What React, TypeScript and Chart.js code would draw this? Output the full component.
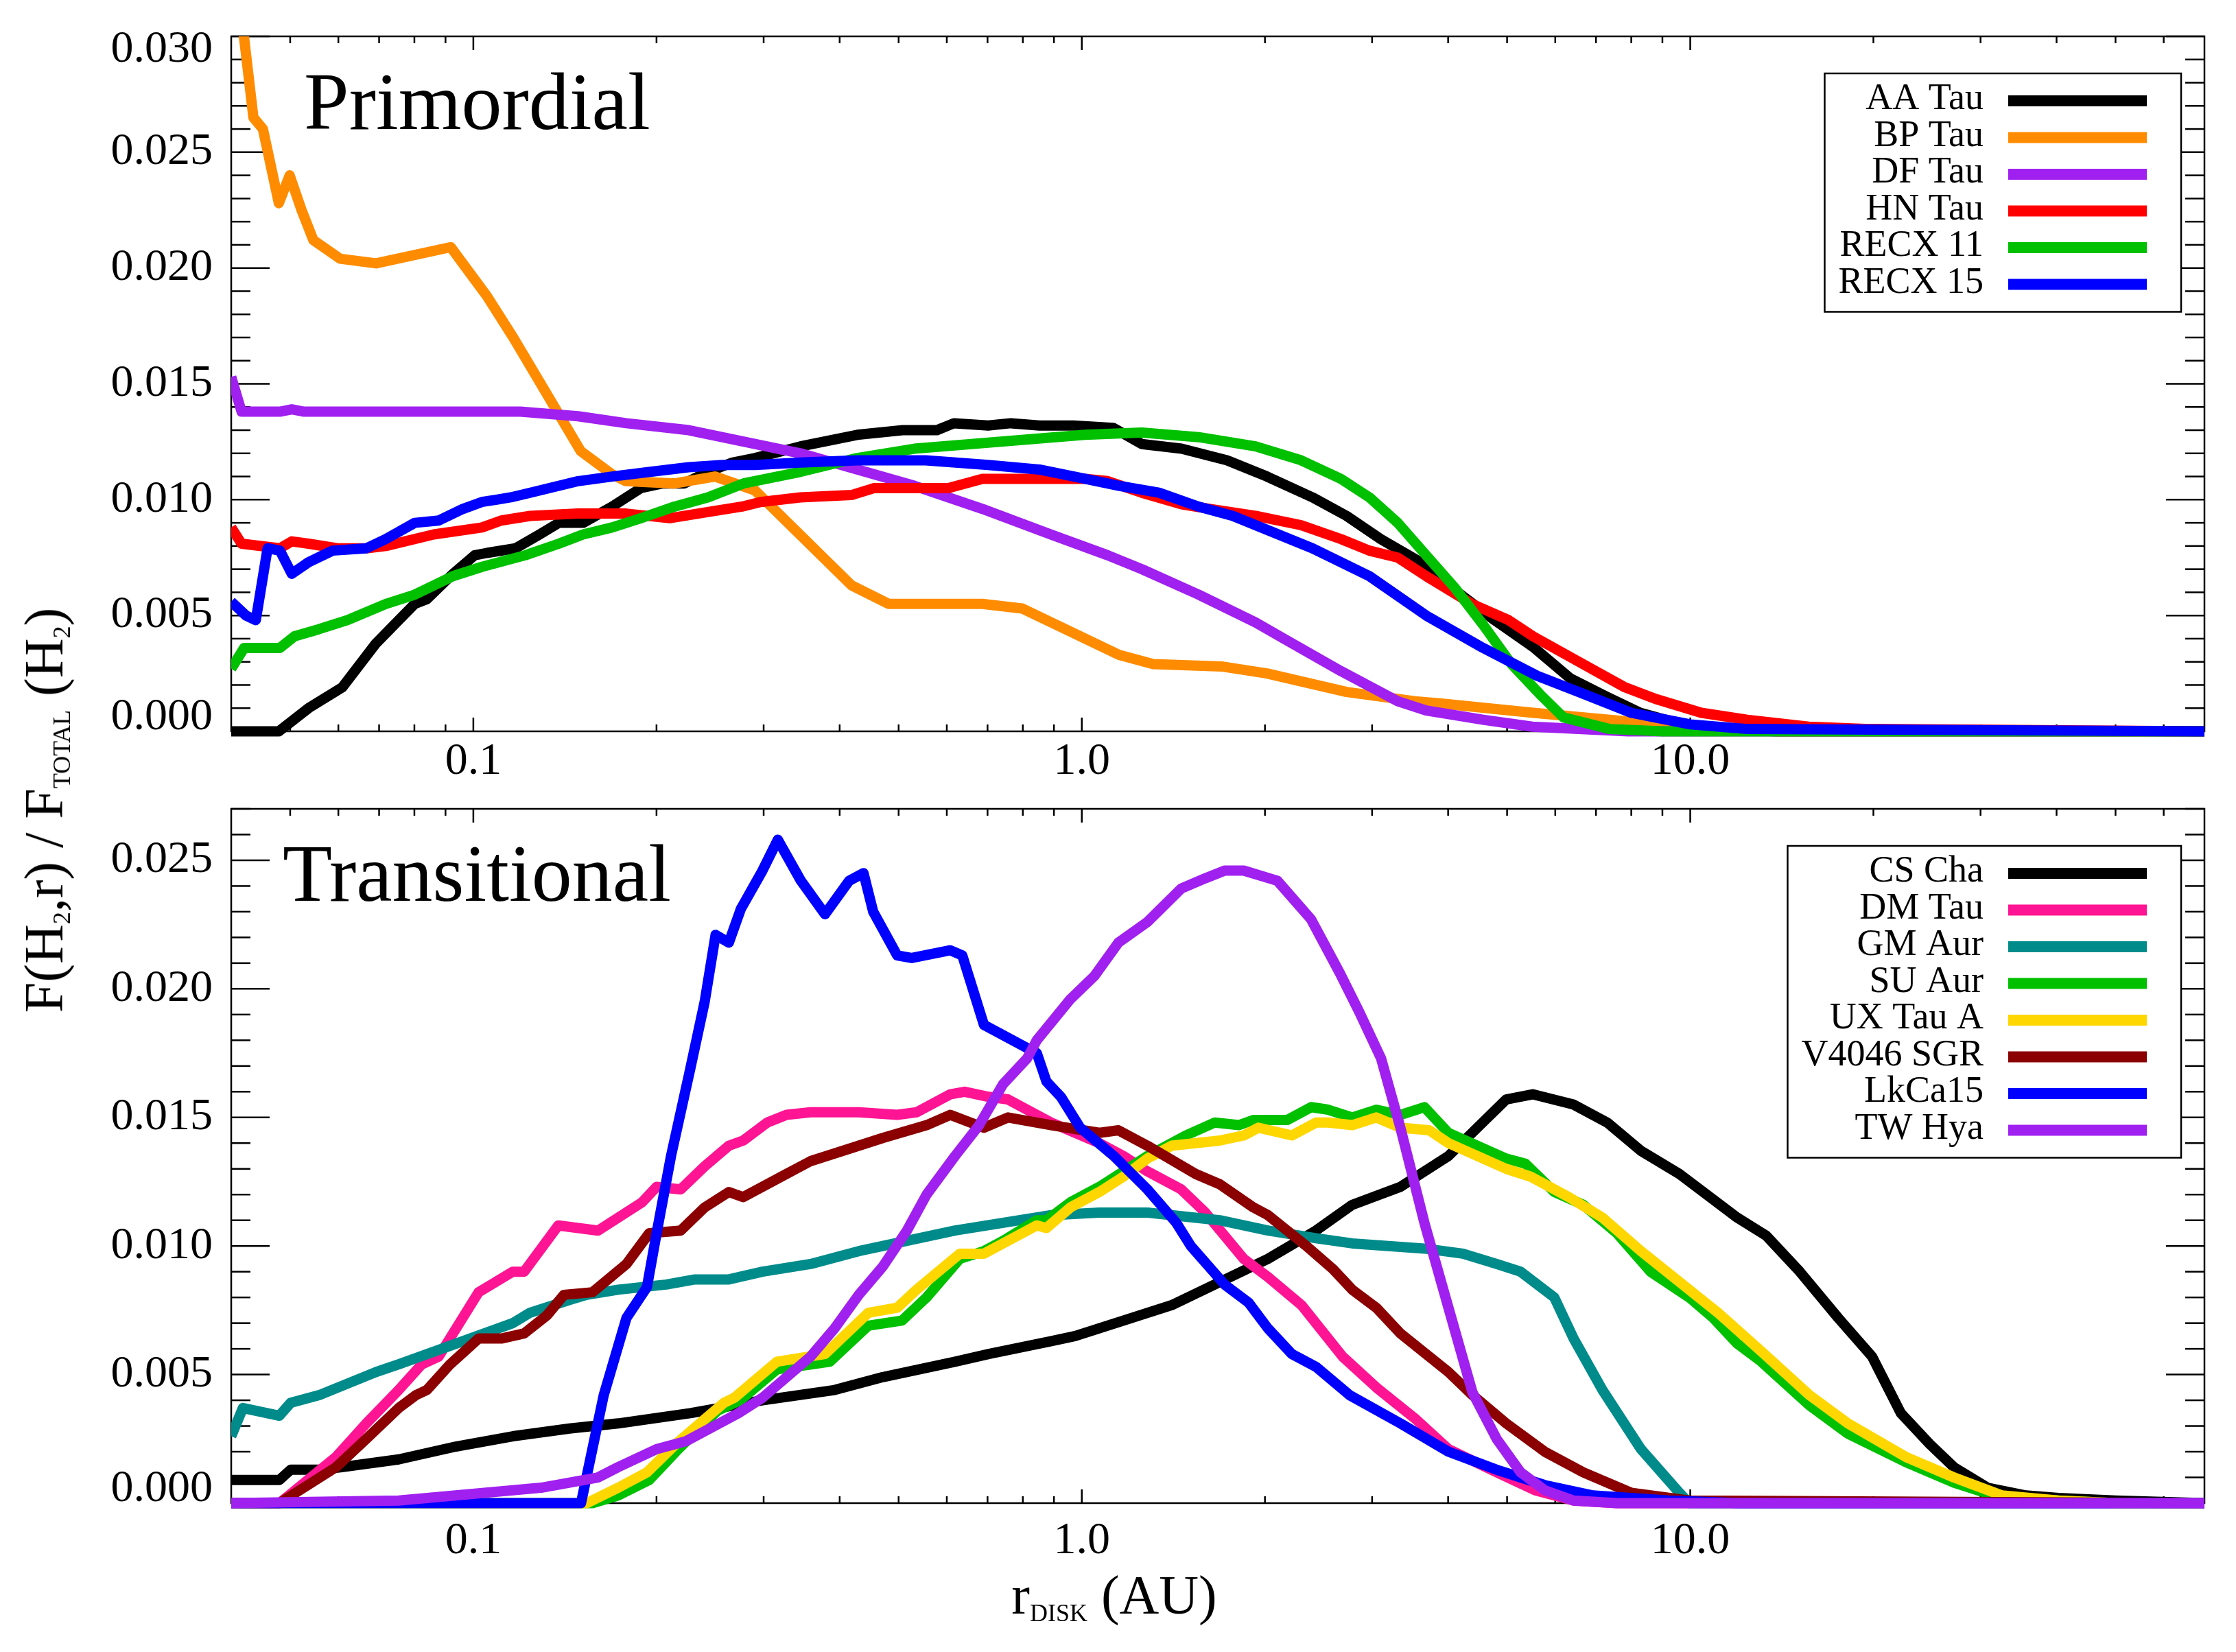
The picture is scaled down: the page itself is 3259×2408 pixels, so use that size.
import { useEffect, useRef } from "react"
import Chart from "chart.js/auto"

const FONT = '"Liberation Serif", "Times New Roman", serif'

// axes
const X_MIN = 0.04
const X_MAX = 70
const xTickValues = [0.1, 1, 10]
const xTickLabels = ["0.1", "1.0", "10.0"]
const topYTicks = [0, 0.005, 0.01, 0.015, 0.02, 0.025, 0.03]
const bottomYTicks = [0, 0.005, 0.01, 0.015, 0.02, 0.025]

// ---- Primordial panel ----
const primordialNames = ["AA Tau", "BP Tau", "DF Tau", "HN Tau", "RECX 11", "RECX 15"]
const primordialColors = ["#000000", "#FF8C00", "#A020F0", "#FF0000", "#00C000", "#0000FF"]

const aaTauR = [0.040, 0.0479, 0.0536, 0.0609, 0.0692, 0.0801, 0.0838, 0.0926, 0.1005, 0.1052, 0.1173, 0.1285, 0.1382, 0.1515, 0.169, 0.1885, 0.2046, 0.222, 0.243, 0.2664, 0.2906, 0.3448, 0.4277, 0.508, 0.578, 0.6166, 0.7016, 0.7647, 0.8518, 0.969, 1.127, 1.255, 1.459, 1.733, 2.015, 2.394, 2.724, 3.099, 3.604, 4.101, 4.768, 5.543, 6.34, 7.285, 8.277, 9.4, 11.05, 13.9, 70]
const aaTauF = [0, 0, 0.0010, 0.0019, 0.0038, 0.0055, 0.0057, 0.0068, 0.0076, 0.0077, 0.0079, 0.0085, 0.0090, 0.0090, 0.0097, 0.0105, 0.0107, 0.0107, 0.0112, 0.0116, 0.0118, 0.0123, 0.0128, 0.0130, 0.0130, 0.0133, 0.0132, 0.0133, 0.0132, 0.0132, 0.0131, 0.0124, 0.0122, 0.0117, 0.0110, 0.0101, 0.0093, 0.0083, 0.0073, 0.0061, 0.0048, 0.0036, 0.0023, 0.0015, 0.0008, 0.0004, 0.0001, 0, 0]

const bpTauR = [0.040, 0.0435, 0.0451, 0.0479, 0.0499, 0.0522, 0.0546, 0.0604, 0.0692, 0.0918, 0.1052, 0.1163, 0.1501, 0.169, 0.178, 0.2141, 0.2496, 0.2903, 0.4184, 0.4815, 0.6866, 0.7984, 1.151, 1.31, 1.696, 2.015, 2.724, 3.527, 3.9, 5.52, 7.37, 9.84, 14, 70]
const bpTauF = [0.0347, 0.0265, 0.0260, 0.0228, 0.0240, 0.0225, 0.0212, 0.0204, 0.0202, 0.0209, 0.0188, 0.0170, 0.0121, 0.0111, 0.0108, 0.0107, 0.0110, 0.0104, 0.0063, 0.0055, 0.0055, 0.0053, 0.0033, 0.0029, 0.0028, 0.0025, 0.0017, 0.0013, 0.0012, 0.0008, 0.0005, 0.0002, 0, 0]

const dfTauR = [0.040, 0.0416, 0.0481, 0.0503, 0.0527, 0.1195, 0.1487, 0.1784, 0.226, 0.3448, 0.5305, 0.6866, 0.889, 1.103, 1.255, 1.556, 1.93, 2.149, 2.666, 3.306, 3.681, 4.566, 5.5, 7.9, 70]
const dfTauF = [0.0153, 0.0138, 0.0138, 0.0139, 0.0138, 0.0138, 0.0136, 0.0133, 0.0130, 0.0120, 0.0106, 0.0096, 0.0085, 0.0076, 0.0070, 0.0059, 0.0047, 0.0040, 0.0026, 0.0013, 0.0009, 0.0005, 0.0002, 0, 0]

const hnTauR = [0.040, 0.0416, 0.0481, 0.0503, 0.0536, 0.0598, 0.0667, 0.0718, 0.0861, 0.1033, 0.1111, 0.124, 0.1487, 0.1784, 0.2102, 0.2477, 0.2763, 0.2966, 0.3448, 0.4184, 0.456, 0.6035, 0.6866, 0.7484, 1.012, 1.103, 1.255, 1.459, 1.625, 1.93, 2.293, 2.666, 2.969, 3.306, 3.681, 4.377, 5.03, 5.516, 6.564, 7.81, 8.768, 10.43, 12.41, 15.65, 19.7, 70]
const hnTauF = [0.0088, 0.0081, 0.0079, 0.0082, 0.0081, 0.0079, 0.0079, 0.0080, 0.0085, 0.0088, 0.0091, 0.0093, 0.0094, 0.0094, 0.0092, 0.0095, 0.0097, 0.0099, 0.0101, 0.0102, 0.0105, 0.0105, 0.0109, 0.0109, 0.0109, 0.0108, 0.0103, 0.0098, 0.0096, 0.0093, 0.0089, 0.0083, 0.0078, 0.0075, 0.0067, 0.0055, 0.0048, 0.0041, 0.0030, 0.0019, 0.0014, 0.0008, 0.0005, 0.0002, 0.0001, 0]

const recx11R = [0.040, 0.042, 0.0481, 0.0508, 0.0556, 0.0621, 0.0718, 0.0801, 0.0926, 0.1033, 0.1217, 0.1382, 0.1515, 0.169, 0.1885, 0.2141, 0.243, 0.278, 0.3448, 0.4277, 0.5305, 0.658, 0.816, 1.012, 1.255, 1.556, 1.93, 2.293, 2.666, 2.969, 3.306, 3.681, 4.101, 4.566, 5.085, 5.662, 6.19, 7.37, 9, 70]
const recx11F = [0.0027, 0.0036, 0.0036, 0.0041, 0.0044, 0.0048, 0.0055, 0.0059, 0.0067, 0.0071, 0.0076, 0.0081, 0.0085, 0.0088, 0.0092, 0.0097, 0.0101, 0.0107, 0.0112, 0.0118, 0.0122, 0.0124, 0.0126, 0.0128, 0.0129, 0.0127, 0.0123, 0.0117, 0.0109, 0.0101, 0.0090, 0.0076, 0.0062, 0.0046, 0.0029, 0.0016, 0.0006, 0.0001, 0, 0]

const recx15R = [0.040, 0.0423, 0.0439, 0.0459, 0.0481, 0.0503, 0.0536, 0.0587, 0.0667, 0.0718, 0.0801, 0.0877, 0.0961, 0.1033, 0.1092, 0.1152, 0.124, 0.1487, 0.169, 0.1954, 0.226, 0.2569, 0.2906, 0.3448, 0.4277, 0.554, 0.7016, 0.8518, 1.012, 1.151, 1.339, 1.556, 1.771, 2.015, 2.394, 2.969, 3.681, 4.566, 5.6, 6.55, 8, 10, 12.4, 70]
const recx15F = [0.0056, 0.0050, 0.0048, 0.0079, 0.0078, 0.0068, 0.0073, 0.0078, 0.0079, 0.0083, 0.0090, 0.0091, 0.0096, 0.0099, 0.0100, 0.0101, 0.0103, 0.0108, 0.0110, 0.0112, 0.0114, 0.0115, 0.0115, 0.0116, 0.0117, 0.0117, 0.0115, 0.0113, 0.0109, 0.0106, 0.0103, 0.0097, 0.0093, 0.0087, 0.0079, 0.0067, 0.0050, 0.0036, 0.0024, 0.0017, 0.0008, 0.0003, 0.0001, 0]

// ---- Transitional panel ----
const transitionalNames = ["CS Cha", "DM Tau", "GM Aur", "SU Aur", "UX Tau A", "V4046 SGR", "LkCa15", "TW Hya"]
const transitionalColors = ["#000000", "#FF1493", "#008B8B", "#00C000", "#FFD700", "#8B0000", "#0000FF", "#A020F0"]

const csChaR = [0.040, 0.048, 0.0501, 0.0558, 0.0608, 0.0754, 0.0936, 0.1161, 0.1439, 0.173, 0.2273, 0.2987, 0.3925, 0.4709, 0.619, 0.703, 0.891, 0.9757, 1.171, 1.405, 1.686, 2.022, 2.426, 2.783, 3.339, 4.005, 4.983, 5.508, 6.432, 7.305, 8.299, 9.6, 11.95, 13.33, 15.14, 17.51, 19.9, 22.19, 24.75, 27.12, 30.8, 35.6, 40.3, 50, 70]
const csChaF = [0.0009, 0.0009, 0.0013, 0.0013, 0.0014, 0.0017, 0.0022, 0.0026, 0.0029, 0.0031, 0.0035, 0.0040, 0.0044, 0.0049, 0.0055, 0.0058, 0.0063, 0.0065, 0.0071, 0.0077, 0.0086, 0.0095, 0.0106, 0.0116, 0.0123, 0.0135, 0.0157, 0.0159, 0.0155, 0.0148, 0.0137, 0.0128, 0.0111, 0.0104, 0.0090, 0.0072, 0.0057, 0.0035, 0.0023, 0.0014, 0.0006, 0.0003, 0.0002, 0.0001, 0]

const dmTauR = [0.040, 0.048, 0.0595, 0.0667, 0.0754, 0.0823, 0.0877, 0.102, 0.1161, 0.1212, 0.1379, 0.1603, 0.1894, 0.2001, 0.2192, 0.24, 0.263, 0.2777, 0.3041, 0.3271, 0.3583, 0.43, 0.4973, 0.535, 0.5754, 0.6078, 0.642, 0.703, 0.7563, 0.8282, 0.891, 0.9757, 1.069, 1.171, 1.282, 1.457, 1.596, 1.846, 2.022, 2.297, 2.683, 3.048, 3.525, 4.005, 4.806, 5.559, 6.432, 7.576, 70]
const dmTauF = [0, 0, 0.0018, 0.0031, 0.0044, 0.0054, 0.0057, 0.0082, 0.0090, 0.0090, 0.0108, 0.0106, 0.0117, 0.0123, 0.0122, 0.0131, 0.0139, 0.0141, 0.0148, 0.0151, 0.0152, 0.0152, 0.0151, 0.0152, 0.0156, 0.0159, 0.0160, 0.0158, 0.0157, 0.0152, 0.0148, 0.0144, 0.0140, 0.0135, 0.0129, 0.0122, 0.0113, 0.0095, 0.0088, 0.0077, 0.0057, 0.0045, 0.0033, 0.0021, 0.0012, 0.0005, 0.0001, 0, 0]

const gmAurR = [0.040, 0.0418, 0.048, 0.0501, 0.0558, 0.0692, 0.0754, 0.0936, 0.1161, 0.1238, 0.1439, 0.1536, 0.173, 0.2075, 0.2314, 0.263, 0.2987, 0.3583, 0.43, 0.516, 0.619, 0.7426, 0.891, 1.069, 1.282, 1.405, 1.686, 2.022, 2.426, 2.783, 3.657, 4.23, 4.806, 5.263, 5.978, 6.432, 7.174, 8.299, 9.6, 9.96, 70]
const gmAurF = [0.0026, 0.0037, 0.0034, 0.0039, 0.0042, 0.0051, 0.0054, 0.0062, 0.0070, 0.0074, 0.0079, 0.0081, 0.0083, 0.0085, 0.0087, 0.0087, 0.0090, 0.0093, 0.0098, 0.0102, 0.0106, 0.0109, 0.0112, 0.0113, 0.0113, 0.0112, 0.0110, 0.0106, 0.0103, 0.0101, 0.0099, 0.0097, 0.0093, 0.0090, 0.0080, 0.0064, 0.0044, 0.0021, 0.0004, 0, 0]

const suAurR = [0.040, 0.157, 0.173, 0.1945, 0.2152, 0.2519, 0.2746, 0.3154, 0.3854, 0.4458, 0.5065, 0.5558, 0.6302, 0.6904, 0.7426, 0.8435, 0.8747, 0.958, 1.069, 1.282, 1.483, 1.654, 1.813, 1.914, 2.175, 2.382, 2.541, 2.783, 3.048, 3.339, 3.657, 4.005, 4.468, 4.983, 5.361, 5.978, 6.671, 7.576, 8.605, 9.96, 10.91, 11.95, 13.09, 15.7, 18.16, 22.6, 27.12, 32.53, 40.3, 50, 70]
const suAurF = [0, 0, 0.0003, 0.0009, 0.0020, 0.0036, 0.0040, 0.0052, 0.0055, 0.0069, 0.0071, 0.0080, 0.0095, 0.0098, 0.0102, 0.0110, 0.0110, 0.0117, 0.0123, 0.0135, 0.0143, 0.0148, 0.0147, 0.0149, 0.0149, 0.0154, 0.0153, 0.0150, 0.0153, 0.0151, 0.0154, 0.0144, 0.0139, 0.0134, 0.0132, 0.0121, 0.0116, 0.0105, 0.0090, 0.0080, 0.0072, 0.0062, 0.0055, 0.0038, 0.0027, 0.0016, 0.0008, 0.0002, 0.0001, 0, 0]

const uxTauR = [0.040, 0.1536, 0.173, 0.1929, 0.2152, 0.2582, 0.2687, 0.3154, 0.3784, 0.4458, 0.4973, 0.535, 0.6302, 0.6904, 0.7426, 0.8435, 0.8747, 0.958, 1.069, 1.171, 1.282, 1.405, 1.686, 1.846, 1.95, 2.214, 2.426, 2.541, 2.783, 3.048, 3.339, 3.724, 4.005, 4.468, 4.983, 5.46, 6.314, 7.174, 8.299, 9.96, 11.11, 13.09, 15.7, 18.16, 22.6, 27.12, 32.53, 40.3, 50, 70]
const uxTauF = [0, 0, 0.0006, 0.0012, 0.0023, 0.0039, 0.0041, 0.0055, 0.0058, 0.0074, 0.0076, 0.0083, 0.0097, 0.0097, 0.0101, 0.0108, 0.0107, 0.0115, 0.0121, 0.0127, 0.0134, 0.0139, 0.0141, 0.0143, 0.0146, 0.0143, 0.0148, 0.0148, 0.0147, 0.0150, 0.0146, 0.0145, 0.0140, 0.0135, 0.0130, 0.0127, 0.0119, 0.0111, 0.0098, 0.0083, 0.0074, 0.0059, 0.0042, 0.0031, 0.0018, 0.0010, 0.0003, 0.0001, 0, 0]

const v4046R = [0.040, 0.048, 0.0595, 0.0667, 0.0754, 0.0805, 0.0839, 0.0916, 0.102, 0.1112, 0.1212, 0.1321, 0.1409, 0.1569, 0.1785, 0.1946, 0.2192, 0.24, 0.263, 0.2777, 0.3271, 0.3583, 0.43, 0.4709, 0.5558, 0.6078, 0.6904, 0.7563, 0.891, 1.069, 1.149, 1.282, 1.539, 1.686, 1.914, 2.022, 2.339, 2.587, 2.783, 3.048, 3.339, 4.005, 4.387, 4.983, 5.767, 6.671, 8.0, 9.96, 70]
const v4046F = [0, 0, 0.0014, 0.0025, 0.0037, 0.0042, 0.0044, 0.0054, 0.0064, 0.0064, 0.0066, 0.0073, 0.0081, 0.0082, 0.0093, 0.0105, 0.0106, 0.0115, 0.0121, 0.0119, 0.0128, 0.0133, 0.0139, 0.0142, 0.0147, 0.0151, 0.0146, 0.0150, 0.0147, 0.0144, 0.0145, 0.0139, 0.0128, 0.0124, 0.0115, 0.0112, 0.0100, 0.0091, 0.0083, 0.0076, 0.0066, 0.0051, 0.0042, 0.0031, 0.0020, 0.0012, 0.0004, 0.0001, 0]

const lkCa15R = [0.040, 0.1503, 0.1638, 0.1785, 0.1929, 0.2001, 0.2113, 0.2273, 0.24, 0.2501, 0.263, 0.2751, 0.2987, 0.3165, 0.3455, 0.3784, 0.4146, 0.4378, 0.4541, 0.4973, 0.5253, 0.6078, 0.6362, 0.6904, 0.7985, 0.8435, 0.8747, 0.924, 0.9937, 1.129, 1.282, 1.43, 1.511, 1.717, 1.88, 2.022, 2.214, 2.426, 2.755, 3.339, 4.005, 4.806, 5.767, 6.917, 9.23, 12, 70]
const lkCa15F = [0, 0, 0.0042, 0.0072, 0.0084, 0.0105, 0.0135, 0.0169, 0.0195, 0.0221, 0.0218, 0.0231, 0.0246, 0.0258, 0.0242, 0.0229, 0.0242, 0.0245, 0.0230, 0.0213, 0.0212, 0.0215, 0.0213, 0.0186, 0.0178, 0.0175, 0.0164, 0.0158, 0.0146, 0.0135, 0.0122, 0.0109, 0.0100, 0.0085, 0.0078, 0.0068, 0.0058, 0.0053, 0.0042, 0.0031, 0.0020, 0.0013, 0.0007, 0.0003, 0.0001, 0, 0]

const twHyaR = [0.040, 0.0754, 0.1161, 0.1292, 0.1603, 0.173, 0.2001, 0.2232, 0.2727, 0.2987, 0.3583, 0.3925, 0.43, 0.4709, 0.516, 0.5558, 0.619, 0.6781, 0.7426, 0.8133, 0.8435, 0.958, 1.049, 1.149, 1.282, 1.457, 1.596, 1.717, 1.846, 2.097, 2.382, 2.657, 2.858, 3.103, 3.339, 3.657, 4.005, 4.387, 4.806, 5.263, 5.767, 6.432, 7.576, 70]
const twHyaF = [0, 0.0001, 0.0005, 0.0006, 0.0010, 0.0014, 0.0021, 0.0024, 0.0035, 0.0041, 0.0057, 0.0068, 0.0081, 0.0092, 0.0106, 0.0120, 0.0135, 0.0147, 0.0163, 0.0173, 0.0180, 0.0196, 0.0205, 0.0218, 0.0226, 0.0239, 0.0243, 0.0246, 0.0246, 0.0242, 0.0227, 0.0206, 0.0191, 0.0173, 0.0146, 0.0109, 0.0076, 0.0043, 0.0025, 0.0012, 0.0005, 0.0001, 0, 0]

function toPoints(rs: number[], fs: number[]) {
  const n = Math.min(rs.length, fs.length)
  const pts = []
  for (let i = 0; i < n; i++) pts.push({ x: rs[i], y: fs[i] })
  return pts
}

// frame, inward ticks on all four sides, y labels, panel name and legend box
function decorPlugin(title: string, titleDx: number, titleDy: number, yTicks: number[]) {
  const seg = (ctx: CanvasRenderingContext2D, x1: number, y1: number, x2: number, y2: number) => {
    ctx.beginPath()
    ctx.moveTo(x1, y1)
    ctx.lineTo(x2, y2)
    ctx.stroke()
  }
  return {
    id: "decor",
    beforeDatasetsDraw(chart: any) {
      const { ctx, chartArea: a, scales } = chart
      const xs = scales.x
      const ys = scales.y
      ctx.save()
      ctx.strokeStyle = "#000"
      ctx.lineWidth = 2.5
      ctx.strokeRect(a.left, a.top, a.right - a.left, a.bottom - a.top)
      const i0 = Math.ceil(ys.min / 0.001 - 1e-6)
      for (let i = i0; i * 0.001 <= ys.max + 1e-9; i++) {
        const py = ys.getPixelForValue(i * 0.001)
        const len = i % 5 === 0 ? 56 : 28
        seg(ctx, a.left, py, a.left + len, py)
        seg(ctx, a.right - len, py, a.right, py)
      }
      for (let e = -2; e <= 2; e++) {
        for (let k = 1; k <= 9; k++) {
          const v = k * Math.pow(10, e)
          if (v <= xs.min * 1.0001 || v >= xs.max * 0.9999) continue
          const px = xs.getPixelForValue(v)
          const len = k === 1 ? 20 : 10
          seg(ctx, px, a.top, px, a.top + len)
          seg(ctx, px, a.bottom - len, px, a.bottom)
        }
      }
      // y tick labels; the ones on the frame edges are nudged inside
      ctx.fillStyle = "#000"
      ctx.font = `66px ${FONT}`
      ctx.textAlign = "right"
      ctx.textBaseline = "middle"
      yTicks.forEach((v) => {
        let py = ys.getPixelForValue(v)
        if (Math.abs(py - a.bottom) < 2) py -= 20
        if (Math.abs(py - a.top) < 2) py += 20
        ctx.fillText(v.toFixed(3), a.left - 27, py)
      })
      ctx.restore()
    },
    afterDatasetsDraw(chart: any) {
      const { ctx, chartArea: a } = chart
      ctx.save()
      ctx.fillStyle = "#000"
      ctx.textAlign = "left"
      ctx.textBaseline = "alphabetic"
      ctx.font = `118px ${FONT}`
      ctx.fillText(title, a.left + titleDx, a.top + titleDy)

      const ds = chart.data.datasets
      ctx.font = `54px ${FONT}`
      const maxW = Math.max(...ds.map((d: any) => ctx.measureText(d.label).width))
      const lineLen = 202
      const gap = 36
      const padL = 20
      const padR = 50
      const rowH = 53.5
      const boxW = padL + maxW + gap + lineLen + padR
      const boxH = 80 + (ds.length - 1) * rowH
      const boxRight = a.right - 34
      const boxTop = a.top + 54
      const boxLeft = boxRight - boxW
      ctx.fillStyle = "#fff"
      ctx.fillRect(boxLeft, boxTop, boxW, boxH)
      ctx.strokeStyle = "#000"
      ctx.lineWidth = 2.5
      ctx.strokeRect(boxLeft, boxTop, boxW, boxH)
      const lineStart = boxRight - padR - lineLen
      const textRight = lineStart - gap
      ds.forEach((d: any, i: number) => {
        const cy = boxTop + 40 + i * rowH
        ctx.fillStyle = "#000"
        ctx.textAlign = "right"
        ctx.textBaseline = "middle"
        ctx.fillText(d.label, textRight, cy - 2)
        ctx.strokeStyle = d.borderColor
        ctx.lineWidth = 16
        ctx.lineCap = "butt"
        seg(ctx, lineStart, cy, lineStart + lineLen, cy)
      })
      ctx.restore()
    },
  }
}

interface PanelSpec {
  names: string[]
  colors: string[]
  rs: number[][]
  fs: number[][]
  yMin: number
  yMax: number
  yTicks: number[]
  padTop: number
  xAxisH: number
  xLabelPad: number
  title: string
  titleDx: number
  titleDy: number
}

function buildConfig(p: PanelSpec): any {
  const datasets = p.names.map((name, i) => ({
    label: name,
    data: toPoints(p.rs[i], p.fs[i]),
    showLine: true,
    fill: false,
    borderColor: p.colors[i],
    backgroundColor: p.colors[i],
    borderWidth: 15,
    borderJoinStyle: "round",
    borderCapStyle: "butt",
    pointRadius: 0,
    pointHoverRadius: 0,
    tension: 0,
    clip: { left: 0, top: 0, right: 0, bottom: 10 },
    order: -i,
  }))
  return {
    type: "scatter",
    data: { datasets },
    options: {
      animation: false,
      responsive: false,
      devicePixelRatio: 1,
      events: [],
      layout: { padding: { left: 0, right: 46, top: p.padTop, bottom: 0 } },
      plugins: {
        legend: { display: false },
        tooltip: { enabled: false },
        title: { display: false },
      },
      scales: {
        x: {
          type: "logarithmic",
          min: X_MIN,
          max: X_MAX,
          grid: { display: false, drawTicks: false },
          border: { display: false },
          afterBuildTicks: (s: any) => {
            s.ticks = xTickValues.map((v) => ({ value: v }))
          },
          afterFit: (s: any) => {
            s.height = p.xAxisH
            s.paddingLeft = 0
            s.paddingRight = 0
          },
          ticks: {
            autoSkip: false,
            maxRotation: 0,
            minRotation: 0,
            padding: p.xLabelPad,
            color: "#000",
            font: { family: FONT, size: 66 },
            callback: (v: any) => {
              const i = xTickValues.findIndex((t) => Math.abs(t - Number(v)) < 1e-9)
              return i >= 0 ? xTickLabels[i] : ""
            },
          },
        },
        y: {
          type: "linear",
          min: p.yMin,
          max: p.yMax,
          grid: { display: false, drawTicks: false },
          border: { display: false },
          afterBuildTicks: (s: any) => {
            s.ticks = p.yTicks.map((v) => ({ value: v }))
          },
          afterFit: (s: any) => {
            s.width = 337
            s.paddingTop = 0
            s.paddingBottom = 0
          },
          ticks: { display: false },
        },
      },
    },
    plugins: [decorPlugin(p.title, p.titleDx, p.titleDy, p.yTicks)],
  }
}

export default function App() {
  const topRef = useRef<HTMLCanvasElement>(null)
  const bottomRef = useRef<HTMLCanvasElement>(null)

  useEffect(() => {
    const charts: Chart[] = []
    if (topRef.current) {
      charts.push(
        new Chart(
          topRef.current,
          buildConfig({
            names: primordialNames,
            colors: primordialColors,
            rs: [aaTauR, bpTauR, dfTauR, hnTauR, recx11R, recx15R],
            fs: [aaTauF, bpTauF, dfTauF, hnTauF, recx11F, recx15F],
            yMin: 0,
            yMax: 0.03,
            yTicks: topYTicks,
            padTop: 53,
            xAxisH: 114,
            xLabelPad: 5,
            title: "Primordial",
            titleDx: 106,
            titleDy: 135,
          })
        )
      )
    }
    if (bottomRef.current) {
      charts.push(
        new Chart(
          bottomRef.current,
          buildConfig({
            names: transitionalNames,
            colors: transitionalColors,
            rs: [csChaR, dmTauR, gmAurR, suAurR, uxTauR, v4046R, lkCa15R, twHyaR],
            fs: [csChaF, dmTauF, gmAurF, suAurF, uxTauF, v4046F, lkCa15F, twHyaF],
            yMin: 0,
            yMax: 0.027,
            yTicks: bottomYTicks,
            padTop: 29,
            xAxisH: 109,
            xLabelPad: 16,
            title: "Transitional",
            titleDx: 75,
            titleDy: 134,
          })
        )
      )
    }
    return () => {
      charts.forEach((c) => c.destroy())
    }
  }, [])

  const sub = { fontSize: 36, lineHeight: "1", verticalAlign: "-11px" }

  return (
    <div
      style={{
        position: "absolute",
        left: 0,
        top: 0,
        width: 3259,
        height: 2408,
        background: "#fff",
        overflow: "hidden",
      }}
    >
      <canvas
        ref={topRef}
        width={3259}
        height={1180}
        style={{ position: "absolute", left: 0, top: 0, width: 3259, height: 1180 }}
      />
      <canvas
        ref={bottomRef}
        width={3259}
        height={1150}
        style={{ position: "absolute", left: 0, top: 1150, width: 3259, height: 1150 }}
      />
      <div
        style={{
          position: "absolute",
          left: 66,
          top: 1181,
          transform: "translate(-50%, -50%) rotate(-90deg)",
          fontFamily: FONT,
          fontSize: 80,
          lineHeight: "80px",
          whiteSpace: "nowrap",
          color: "#000",
        }}
      >
        F(H<span style={sub}>2</span>,r) / F<span style={sub}>TOTAL</span> (H<span style={sub}>2</span>)
      </div>
      <div
        style={{
          position: "absolute",
          left: 1624,
          top: 2285,
          transform: "translateX(-50%)",
          fontFamily: FONT,
          fontSize: 80,
          lineHeight: "80px",
          whiteSpace: "nowrap",
          color: "#000",
        }}
      >
        r<span style={sub}>DISK</span> (AU)
      </div>
    </div>
  )
}
